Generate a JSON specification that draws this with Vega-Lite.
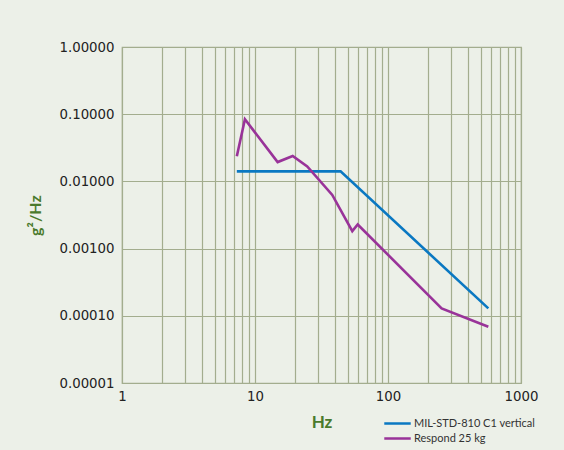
{
  "$schema": "https://vega.github.io/schema/vega-lite/v6.json",
  "width": 399,
  "height": 336,
  "autosize": {"type": "none"},
  "padding": {"left": 122, "top": 47, "right": 43, "bottom": 67},
  "background": "#ecf0e8",
  "config": {
    "view": {"stroke": "#a3ad8e", "strokeWidth": 1.2, "fill": "#ecf0e8"},
    "font": "DejaVu Sans",
    "axis": {"gridColor": "#a3ad8e", "gridOpacity": 1, "gridWidth": 1.2, "domain": false, "ticks": false, "labelColor": "#222222", "labelFontSize": 13.3, "labelFont": "DejaVu Sans"}
  },
  "data": {
    "values": [
      {"series": "MIL-STD-810 C1 vertical", "hz": 7.3, "psd": 0.0141},
      {"series": "MIL-STD-810 C1 vertical", "hz": 44, "psd": 0.0141},
      {"series": "MIL-STD-810 C1 vertical", "hz": 568, "psd": 0.000129},
      {"series": "Respond 25 kg", "hz": 7.3, "psd": 0.0236},
      {"series": "Respond 25 kg", "hz": 8.4, "psd": 0.084},
      {"series": "Respond 25 kg", "hz": 14.8, "psd": 0.0194},
      {"series": "Respond 25 kg", "hz": 19.2, "psd": 0.0239},
      {"series": "Respond 25 kg", "hz": 24.7, "psd": 0.0167},
      {"series": "Respond 25 kg", "hz": 38.1, "psd": 0.0063},
      {"series": "Respond 25 kg", "hz": 53.9, "psd": 0.00182},
      {"series": "Respond 25 kg", "hz": 59.2, "psd": 0.00228},
      {"series": "Respond 25 kg", "hz": 253, "psd": 0.000129},
      {"series": "Respond 25 kg", "hz": 568, "psd": 0.0000686}
    ]
  },
  "mark": {"type": "line", "strokeWidth": 2.6, "clip": true},
  "encoding": {
    "x": {
      "field": "hz", "type": "quantitative",
      "scale": {"type": "log", "domain": [1, 1000], "nice": false},
      "axis": {
        "values": [1,2,3,4,5,6,7,8,9,10,20,30,40,50,60,70,80,90,100,200,300,400,500,600,700,800,900,1000],
        "labelExpr": "indexof([1,10,100,1000], datum.value) >= 0 ? format(datum.value, 'd') : ''",
        "labelPadding": 6,
        "labelFlush": false,
        "title": "Hz", "titleColor": "#4a7a2c", "titleFont": "Lato", "titleFontSize": 17, "titleFontWeight": "bold", "titlePadding": 12
      }
    },
    "y": {
      "field": "psd", "type": "quantitative",
      "scale": {"type": "log", "domain": [0.00001, 1], "nice": false},
      "axis": {
        "values": [0.00001, 0.0001, 0.001, 0.01, 0.1, 1],
        "format": ".5f",
        "labelPadding": 8,
        "labelFlush": false,
        "title": "g²/Hz", "titleColor": "#4a7a2c", "titleFont": "Lato", "titleFontSize": 16, "titleFontWeight": "bold", "titlePadding": 16
      }
    },
    "color": {
      "field": "series", "type": "nominal",
      "scale": {"domain": ["MIL-STD-810 C1 vertical", "Respond 25 kg"], "range": ["#0a78c2", "#993399"]},
      "legend": {
        "orient": "none", "legendX": 261, "legendY": 370, "title": null,
        "symbolType": "stroke", "symbolSize": 700, "symbolStrokeWidth": 2.5,
        "labelFont": "Lato", "labelFontSize": 11, "labelColor": "#333333",
        "rowPadding": 2, "clipHeight": 13, "labelOffset": 2, "padding": 0
      }
    }
  }
}
